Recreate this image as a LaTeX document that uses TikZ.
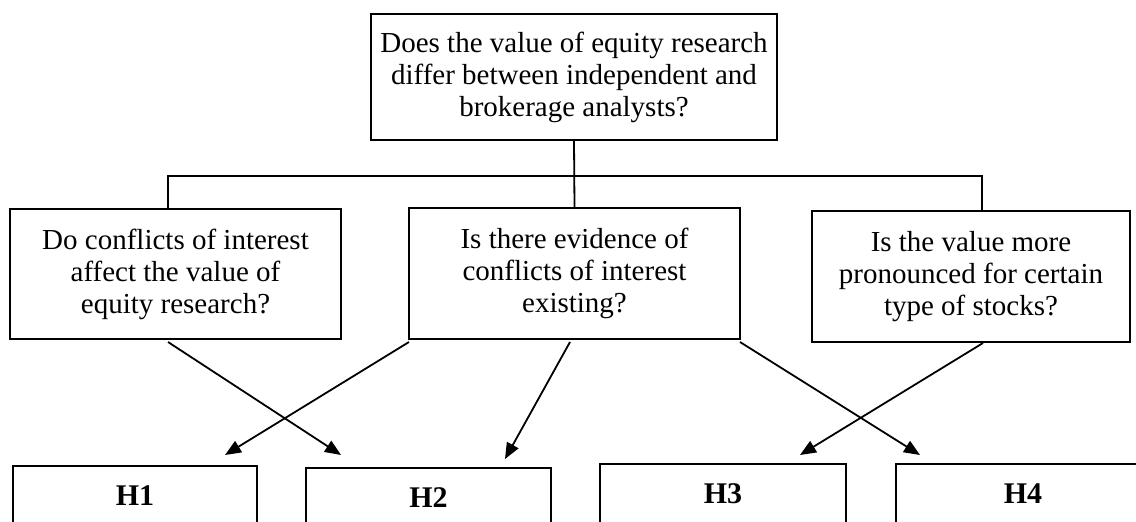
\documentclass[tikz,border=0pt]{standalone}
\usepackage{fontspec}
\setmainfont{Liberation Serif}
\usetikzlibrary{arrows.meta}
\tikzset{
  qbox/.style={draw, line width=2pt, inner sep=0pt, align=center,
    font=\fontsize{29}{32}\selectfont},
  hbox/.style={draw, line width=2pt, inner sep=0pt,
    font=\fontsize{30}{32}\selectfont\bfseries},
  conn/.style={line width=1.8pt},
  arr/.style={line width=1.8pt, -{Triangle[length=16pt,width=13pt]}}
}
\begin{document}
\begin{tikzpicture}[x=1pt,y=-1pt]
\useasboundingbox (0,0) rectangle (1136,522);
\clip (0,0) rectangle (1136,522);
\fill[white] (0,0) rectangle (1136,522);
% question boxes
\node[qbox, minimum width=406pt, minimum height=126pt] (T) at (574,77)
  {Does the value of equity research\\differ between independent and\\brokerage analysts?};
\node[qbox, minimum width=331pt, minimum height=130pt] (L) at (175.5,274)
  {Do conflicts of interest\\affect the value of\\equity research?};
\node[qbox, minimum width=331pt, minimum height=131pt] (M) at (574.5,273.5)
  {Is there evidence of\\conflicts of interest\\existing?};
\node[qbox, minimum width=318pt, minimum height=131pt] (R) at (971,276.5)
  {Is the value more\\pronounced for certain\\type of stocks?};
% hypothesis boxes
\node[hbox, minimum width=244pt, minimum height=60pt] (H1) at (135,496) {H1};
\node[hbox, minimum width=245pt, minimum height=60pt] (H2) at (428.5,498) {H2};
\node[hbox, minimum width=246pt, minimum height=60pt] (H3) at (723,494) {H3};
\node[hbox, minimum width=254pt, minimum height=60pt] (H4) at (1023,494) {H4};
% tree connectors
\coordinate (hl) at (168,176);
\coordinate (hr) at (982,176);
\draw[conn] (hl |- L.north) -- (hl) -- (hr) -- (hr |- R.north);
\draw[conn] (T.south) -- (M.north);
% arrow end points
\coordinate (aL) at (168,342);
\coordinate (aM1) at (409,342);
\coordinate (aM2) at (570,342);
\coordinate (aM3) at (740,342);
\coordinate (aR) at (983,343);
\coordinate (tH1) at (225,455);
\coordinate (tH2a) at (341,455);
\coordinate (tH2b) at (505,459);
\coordinate (tH3) at (800,455);
\coordinate (tH4) at (920,455);
\draw[arr] (aL) -- (tH2a);
\draw[arr] (aM1) -- (tH1);
\draw[arr] (aM2) -- (tH2b);
\draw[arr] (aM3) -- (tH4);
\draw[arr] (aR) -- (tH3);
\end{tikzpicture}
\end{document}
